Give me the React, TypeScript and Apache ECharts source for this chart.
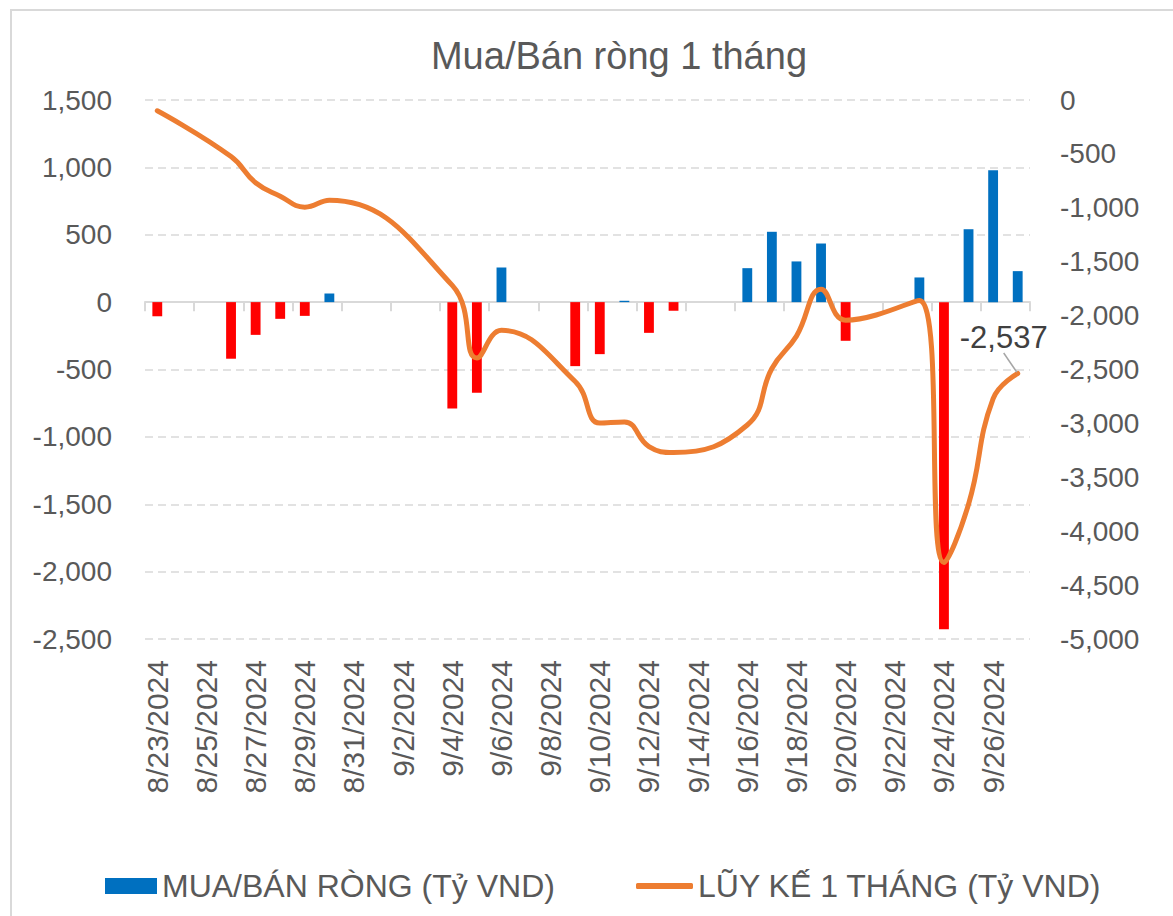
import React, { useEffect, useRef } from "react";
import * as echarts from "echarts";

const dates = [
  "8/23/2024", "8/24/2024", "8/25/2024", "8/26/2024", "8/27/2024", "8/28/2024",
  "8/29/2024", "8/30/2024", "8/31/2024", "9/1/2024", "9/2/2024", "9/3/2024",
  "9/4/2024", "9/5/2024", "9/6/2024", "9/7/2024", "9/8/2024", "9/9/2024",
  "9/10/2024", "9/11/2024", "9/12/2024", "9/13/2024", "9/14/2024", "9/15/2024",
  "9/16/2024", "9/17/2024", "9/18/2024", "9/19/2024", "9/20/2024", "9/21/2024",
  "9/22/2024", "9/23/2024", "9/24/2024", "9/25/2024", "9/26/2024", "9/27/2024",
];

const netFlow = [
  -105, null, null, -420, -243, -124,
  -102, 64, null, null, null, null,
  -790, -673, 257, null, null, -475,
  -386, 10, -228, -64, null, null,
  252, 522, 302, 435, -287, null,
  null, 183, -2428, 541, 979, 230,
];

const cumulative = [
  -100, null, null, -525, -768, -892,
  -994, -930, null, null, null, null,
  -1720, -2393, -2136, null, null, -2611,
  -2997, -2987, -3215, -3270, null, null,
  -3015, -2490, -2190, -1755, -2042, null,
  null, -1860, -4290, -3750, -2770, -2537,
];

const leftTicks = { min: -2500, max: 1500, interval: 500 };
const rightTicks = { min: -5000, max: 0, interval: 500 };

const TITLE = "Mua/Bán ròng 1 tháng";
const BAR_NAME = "MUA/BÁN RÒNG (Tỷ VND)";
const LINE_NAME = "LŨY KẾ 1 THÁNG (Tỷ VND)";

const FONT = "'Liberation Sans', Arial, sans-serif";
const TEXT = "#595959";
const GRID = "#d9d9d9";
const ORANGE = "#ED7D31";

const fmt = (v: number) => v.toLocaleString("en-US");

export default function App() {
  const ref = useRef<HTMLDivElement>(null);

  useEffect(() => {
    document.body.style.margin = "0";
    if (!ref.current) return;
    const chart = echarts.init(ref.current, null, { renderer: "svg" });
    const last = cumulative.length - 1;

    chart.setOption({
      animation: false,
      backgroundColor: "#ffffff",
      textStyle: { fontFamily: FONT },
      graphic: [
        {
          type: "rect",
          shape: { x: 11, y: 10, width: 1400, height: 1200 },
          style: { fill: "none", stroke: GRID, lineWidth: 2 },
          silent: true,
        },
        {
          type: "text",
          x: 619,
          y: 56,
          style: {
            text: TITLE,
            font: `38px ${FONT}`,
            fill: TEXT,
            textAlign: "center",
            textVerticalAlign: "middle",
          },
        },
      ],
      legend: [
        {
          data: [{ name: BAR_NAME, icon: "rect" }],
          left: 105,
          top: 870,
          padding: 0,
          itemWidth: 52,
          itemHeight: 16,
          textStyle: { fontSize: 32, color: TEXT, fontFamily: FONT },
          selectedMode: false,
        },
        {
          data: [{ name: LINE_NAME, icon: "roundRect", itemStyle: { color: ORANGE } }],
          left: 636,
          top: 870,
          padding: 0,
          itemWidth: 57,
          itemHeight: 6,
          textStyle: { fontSize: 32, color: TEXT, fontFamily: FONT },
          selectedMode: false,
        },
      ],
      grid: { left: 145, right: 143, top: 100, bottom: 277, containLabel: false },
      xAxis: [
        {
          type: "category",
          data: dates,
          boundaryGap: true,
          axisLine: { show: false, onZero: false },
          axisTick: { show: false },
          axisLabel: {
            interval: 1,
            rotate: 90,
            margin: 21,
            fontSize: 30,
            color: TEXT,
            fontFamily: FONT,
          },
          splitLine: { show: false },
        },
        {
          type: "category",
          data: dates,
          boundaryGap: true,
          position: "bottom",
          axisLine: {
            show: true,
            onZero: true,
            onZeroAxisIndex: 0,
            lineStyle: { color: GRID, width: 2 },
          },
          axisTick: {
            show: true,
            interval: 1,
            length: 9,
            lineStyle: { color: GRID, width: 2 },
          },
          axisLabel: { show: false },
          splitLine: { show: false },
        },
      ],
      yAxis: [
        {
          type: "value",
          min: leftTicks.min,
          max: leftTicks.max,
          interval: leftTicks.interval,
          axisLine: { show: false },
          axisTick: { show: false },
          axisLabel: {
            margin: 33,
            fontSize: 28,
            color: TEXT,
            fontFamily: FONT,
            formatter: (v: number) => fmt(v),
          },
          splitLine: {
            show: true,
            lineStyle: { color: GRID, width: 1.5, type: [8, 5] },
          },
        },
        {
          type: "value",
          position: "right",
          min: rightTicks.min,
          max: rightTicks.max,
          interval: rightTicks.interval,
          axisLine: { show: false },
          axisTick: { show: false },
          axisLabel: {
            margin: 30,
            fontSize: 28,
            color: TEXT,
            fontFamily: FONT,
            formatter: (v: number) => fmt(v),
          },
          splitLine: { show: false },
        },
      ],
      series: [
        {
          name: BAR_NAME,
          type: "bar",
          xAxisIndex: 0,
          yAxisIndex: 0,
          data: netFlow,
          barWidth: "40%",
          color: "#0070C0",
          itemStyle: {
            color: (p: any) => (p.value < 0 ? "#FF0000" : "#0070C0"),
          },
          z: 2,
        },
        {
          name: LINE_NAME,
          type: "line",
          xAxisIndex: 0,
          yAxisIndex: 1,
          data: cumulative.map((v, i) =>
            i === last
              ? {
                  value: v,
                  label: {
                    show: true,
                    position: "top",
                    distance: 4,
                    fontSize: 31,
                    color: "#404040",
                    fontFamily: FONT,
                    formatter: (p: any) => fmt(p.value),
                  },
                }
              : v
          ),
          connectNulls: true,
          smooth: 0.45,
          symbol: "circle",
          symbolSize: 3,
          showSymbol: true,
          showAllSymbol: true,
          color: ORANGE,
          itemStyle: { color: ORANGE, borderWidth: 0 },
          lineStyle: { color: ORANGE, width: 5, cap: "round", join: "round" },
          labelLine: {
            show: true,
            lineStyle: { color: "#a6a6a6", width: 1.5 },
          },
          labelLayout: (params: any) =>
            params.dataIndex === last ? { dx: -14, dy: -15 } : {},
          z: 3,
        },
      ],
    });

    return () => chart.dispose();
  }, []);

  return <div ref={ref} style={{ width: 1173, height: 916 }} />;
}
